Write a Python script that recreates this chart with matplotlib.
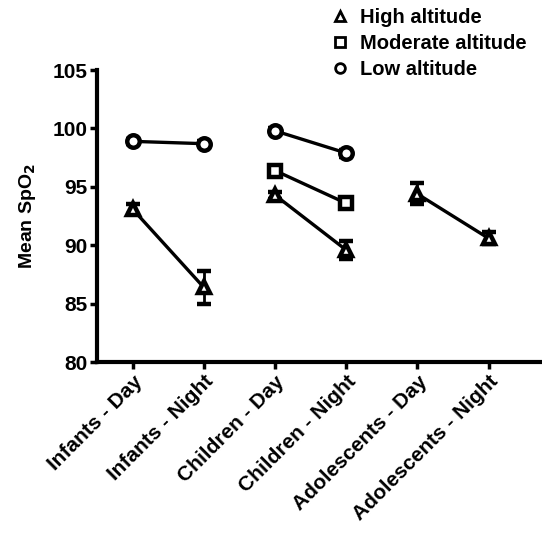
import matplotlib.pyplot as plt
from matplotlib.lines import Line2D

plt.rcParams['font.family'] = ['Liberation Sans', 'DejaVu Sans']
plt.rcParams['font.weight'] = 'bold'

categories = ['Infants - Day', 'Infants - Night', 'Children - Day',
              'Children - Night', 'Adolescents - Day', 'Adolescents - Night']

# values, pairs are Day / Night
high_infants = [93.1, 86.4]
high_infants_err = [0.4, 1.4]
low_infants = [98.9, 98.7]
low_infants_err = [0.2, 0.2]

high_children = [94.3, 89.6]
high_children_err = [0.3, 0.8]
mod_children = [96.4, 93.6]
mod_children_err = [0.3, 0.4]
low_children = [99.8, 97.9]
low_children_err = [0.2, 0.3]

high_adol = [94.4, 90.6]
high_adol_err = [0.9, 0.5]

fig = plt.figure(figsize=(5.42, 5.39), dpi=100)
ax = fig.add_axes([0.179, 0.328, 0.821, 0.542])

def seg(xs, ys, err, marker):
    ax.errorbar(xs, ys, yerr=err, color='black', lw=2.4, marker=marker,
                markersize=9, markerfacecolor='white', markeredgecolor='black',
                markeredgewidth=3.2, capsize=5, capthick=2, elinewidth=2)

seg([0, 1], high_infants, high_infants_err, '^')
seg([0, 1], low_infants, low_infants_err, 'o')
seg([2, 3], high_children, high_children_err, '^')
seg([2, 3], mod_children, mod_children_err, 's')
seg([2, 3], low_children, low_children_err, 'o')
seg([4, 5], high_adol, high_adol_err, '^')

ax.set_xlim(-0.5, 5.75)
ax.set_ylim(80, 105)
ax.set_yticks([80, 85, 90, 95, 100, 105])
ax.set_xticks(range(len(categories)))
ax.set_xticklabels(categories, rotation=45, ha='right', rotation_mode='anchor',
                   fontsize=15, fontweight='bold')
for lbl in ax.get_yticklabels():
    lbl.set_fontsize(15)
    lbl.set_fontweight('bold')
ax.set_ylabel('Mean SpO$_\\mathbf{2}$', fontsize=14, fontweight='bold', labelpad=10)

for s in ['top', 'right']:
    ax.spines[s].set_visible(False)
for s in ['left', 'bottom']:
    ax.spines[s].set_linewidth(3)
ax.tick_params(width=2.5, length=5, direction='out', pad=2)

handles = [Line2D([], [], ls='none', marker=m, color='black', markerfacecolor='white',
                  markersize=7, markeredgewidth=2)
           for m in ['^', 's', 'o']]
fig.legend(handles, ['High altitude', 'Moderate altitude', 'Low altitude'],
           loc='upper left', bbox_to_anchor=(0.575, 1.018), frameon=False,
           fontsize=14.5, handletextpad=0.5, labelspacing=0.33, handlelength=1)

fig.savefig('out.png', dpi=100)
